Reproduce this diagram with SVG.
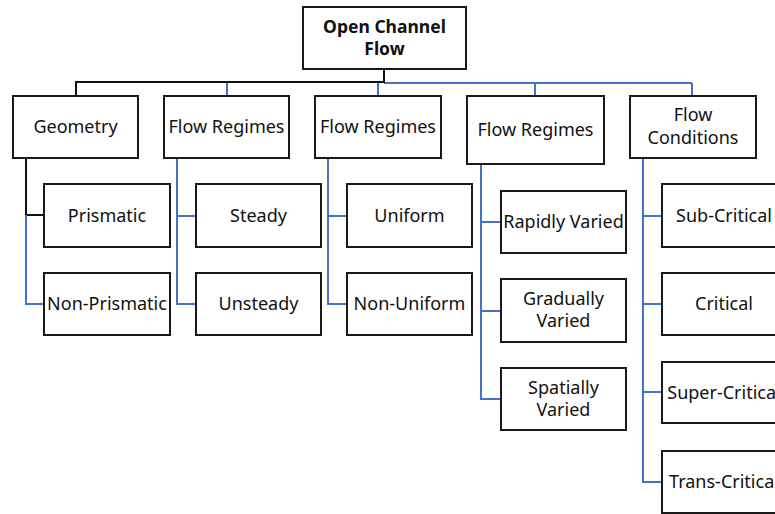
<svg xmlns="http://www.w3.org/2000/svg" width="775" height="514" viewBox="0 0 775 514">
<style>
.box{fill:#fff;stroke:#1a1a1a;stroke-width:2}
.t{font-family:"Noto Sans","Open Sans","Liberation Sans",sans-serif;font-size:18px;fill:#111;text-anchor:middle}
.tb{font-family:"Noto Sans","Open Sans","Liberation Sans",sans-serif;font-size:17.5px;font-weight:bold;fill:#111;text-anchor:middle}
.k{fill:none;stroke:#111;stroke-width:2}
.b{fill:none;stroke:#4472C4;stroke-width:2}
</style>
<rect width="775" height="514" fill="#fff"/>
<g id="connectors">
<path class="b" d="M384,83 H692 M227,83 V96 M378,83 V96 M535,83 V96 M692,83 V96"/>
<path class="k" d="M384,69 V82 H76 V96"/>
<path class="k" d="M26,158 V215 H44"/>
<path class="b" d="M26,215 V304 H44"/>
<path class="b" d="M177,158 V304 H196 M177,216 H196"/>
<path class="b" d="M328,158 V304 H347 M328,216 H347"/>
<path class="b" d="M481,164 V399 H501 M481,222 H501 M481,311 H501"/>
<path class="b" d="M643,157 V482 H662 M643,216 H662 M643,304 H662 M643,392 H662"/>
</g>
<g id="root"><rect class="box" x="303" y="7" width="163" height="62"/><text class="tb" x="384.5" y="33">Open Channel</text><text class="tb" x="384.5" y="55">Flow</text></g>
<g id="geometry"><rect class="box" x="13" y="96" width="125" height="62"/><text class="t" x="75.5" y="133">Geometry</text></g>
<g id="flow-regimes-1"><rect class="box" x="164" y="96" width="125" height="62"/><text class="t" x="226.5" y="133">Flow Regimes</text></g>
<g id="flow-regimes-2"><rect class="box" x="315" y="96" width="126" height="62"/><text class="t" x="378" y="133">Flow Regimes</text></g>
<g id="flow-regimes-3"><rect class="box" x="467" y="96" width="137" height="68"/><text class="t" x="535.5" y="136">Flow Regimes</text></g>
<g id="flow-conditions"><rect class="box" x="630" y="96" width="126" height="62"/><text class="t" x="693" y="121">Flow</text><text class="t" x="693" y="144">Conditions</text></g>
<g id="prismatic"><rect class="box" x="44" y="184" width="126" height="63"/><text class="t" x="107" y="221.5">Prismatic</text></g>
<g id="non-prismatic"><rect class="box" x="44" y="273" width="126" height="62"/><text class="t" x="107" y="310">Non-Prismatic</text></g>
<g id="steady"><rect class="box" x="196" y="184" width="125" height="63"/><text class="t" x="258.5" y="221.5">Steady</text></g>
<g id="unsteady"><rect class="box" x="196" y="273" width="125" height="62"/><text class="t" x="258.5" y="310">Unsteady</text></g>
<g id="uniform"><rect class="box" x="347" y="184" width="125" height="63"/><text class="t" x="409.5" y="221.5">Uniform</text></g>
<g id="non-uniform"><rect class="box" x="347" y="273" width="125" height="62"/><text class="t" x="409.5" y="310">Non-Uniform</text></g>
<g id="rapidly-varied"><rect class="box" x="501" y="191" width="125" height="62"/><text class="t" x="563.5" y="228">Rapidly Varied</text></g>
<g id="gradually-varied"><rect class="box" x="501" y="279" width="125" height="63"/><text class="t" x="563.5" y="305">Gradually</text><text class="t" x="563.5" y="327">Varied</text></g>
<g id="spatially-varied"><rect class="box" x="501" y="368" width="125" height="62"/><text class="t" x="563.5" y="394">Spatially</text><text class="t" x="563.5" y="416">Varied</text></g>
<g id="sub-critical"><rect class="box" x="662" y="184" width="125" height="63"/><text class="t" x="724" y="221.5">Sub-Critical</text></g>
<g id="critical"><rect class="box" x="662" y="273" width="125" height="62"/><text class="t" x="724" y="310">Critical</text></g>
<g id="super-critical"><rect class="box" x="662" y="362" width="125" height="61"/><text class="t" x="724" y="398.5">Super-Critical</text></g>
<g id="trans-critical"><rect class="box" x="662" y="451" width="125" height="62"/><text class="t" x="724" y="488">Trans-Critical</text></g>
</svg>
